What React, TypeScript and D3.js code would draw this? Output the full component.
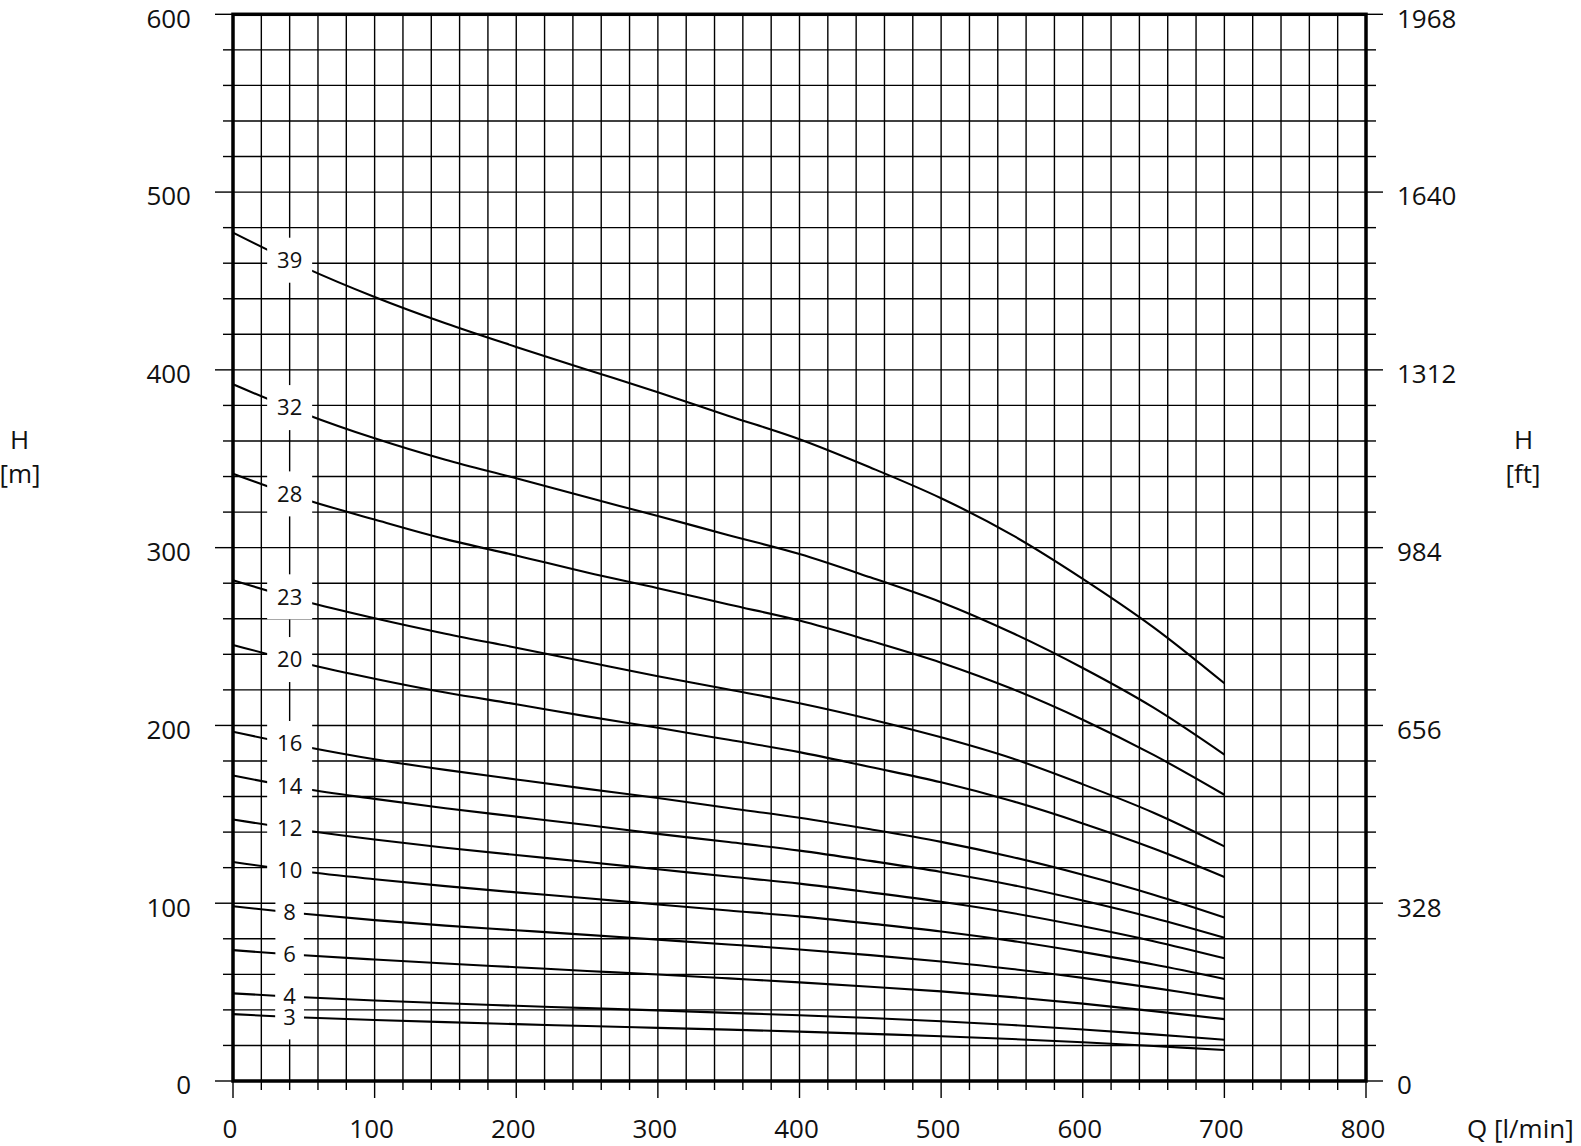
import React from 'react';
import * as d3 from 'd3';

// ---- data ----
const FLOW = [0, 50, 100, 150, 200, 250, 300, 350, 400, 450, 500, 550, 600, 650, 700];
const STAGES = [39, 32, 28, 23, 20, 16, 14, 12, 10, 8, 6, 4, 3];
const H39 = [477.2, 457.8, 441.0, 426.2, 412.9, 400.1, 387.4, 374.1, 361.0, 345.1, 327.8, 307.2, 282.5, 255.2, 223.7];
const H32 = [391.9, 375.5, 361.5, 349.4, 339.0, 328.3, 317.8, 307.0, 296.4, 283.3, 269.3, 252.1, 232.3, 210.0, 183.6];
const H28 = [341.6, 327.4, 315.8, 304.8, 295.6, 286.0, 277.2, 268.0, 259.0, 247.6, 235.3, 220.6, 203.2, 183.4, 161.0];
const H23 = [281.7, 270.0, 260.3, 251.6, 243.7, 235.7, 227.7, 220.2, 212.5, 203.5, 193.3, 181.5, 166.9, 150.9, 132.0];
const H20 = [245.3, 235.0, 226.3, 218.5, 211.9, 205.1, 198.7, 191.9, 185.0, 176.6, 168.0, 157.5, 144.9, 130.8, 114.8];
const H16 = [196.4, 188.2, 181.0, 175.0, 169.6, 164.3, 159.2, 153.6, 148.1, 141.6, 134.5, 126.0, 116.0, 104.8, 92.0];
const H14 = [171.8, 164.4, 158.7, 153.4, 148.7, 144.0, 139.0, 134.4, 129.6, 123.8, 117.6, 110.3, 101.5, 91.7, 80.6];
const H12 = [147.1, 141.0, 135.8, 131.2, 127.1, 123.2, 119.1, 115.0, 111.0, 106.1, 100.8, 94.5, 87.0, 78.6, 69.0];
const H10 = [123.2, 117.8, 113.5, 109.6, 106.1, 102.8, 99.3, 95.9, 92.6, 88.5, 84.1, 78.8, 72.5, 65.5, 57.4];
const H8 = [98.3, 94.1, 90.5, 87.4, 84.8, 82.2, 79.5, 76.8, 74.0, 70.8, 67.2, 63.0, 58.0, 52.4, 46.2];
const H6 = [73.6, 70.7, 68.3, 66.1, 64.0, 61.9, 59.9, 57.7, 55.5, 53.0, 50.4, 47.2, 43.5, 39.3, 34.8];
const H4 = [49.3, 47.1, 45.3, 43.7, 42.3, 41.0, 39.7, 38.3, 37.0, 35.4, 33.6, 31.5, 29.0, 26.2, 23.2];
const H3 = [37.6, 35.7, 34.3, 33.1, 32.0, 30.9, 29.9, 28.9, 27.8, 26.5, 25.2, 23.6, 21.8, 19.7, 17.4];
const CURVES = [H39, H32, H28, H23, H20, H16, H14, H12, H10, H8, H6, H4, H3];

const X_TICKS = [0, 100, 200, 300, 400, 500, 600, 700, 800];
const Y_TICKS_M = [0, 100, 200, 300, 400, 500, 600];
const Y_TICKS_FT = [0, 328, 656, 984, 1312, 1640, 1968];
const LABEL_Q = 40;

const W = 1581;
const HT = 1146;
const FONT = '"Open Sans", "DejaVu Sans", sans-serif';

export default function App() {
  const x = d3.scaleLinear().domain([0, 800]).range([233, 1366]);
  const y = d3.scaleLinear().domain([0, 600]).range([1081, 14.3]);
  const yFt = d3.scaleLinear().domain([0, 1968]).range([1081, 14.3]);

  const gridQ = d3.range(0, 801, 20);
  const gridH = d3.range(0, 601, 20);

  const line = d3
    .line<number>()
    .x((_, i) => x(FLOW[i]))
    .y((d) => y(d))
    .curve(d3.curveCatmullRom.alpha(0.5));

  const [x0, x1] = x.range();
  const [yb, yt] = y.range();

  const labelPos = (c: number[]) => {
    const hAt = c[0] + (c[1] - c[0]) * (LABEL_Q / (FLOW[1] - FLOW[0]));
    return { cx: x(LABEL_Q), cy: y(hAt) };
  };

  return (
    <svg
      width={W}
      height={HT}
      style={{ position: 'absolute', left: 0, top: 0, background: '#fff' }}
      fontFamily={FONT}
    >
      <rect x={0} y={0} width={W} height={HT} fill="#fff" />
      {/* grid */}
      <g stroke="#000" strokeWidth={1.4}>
        {gridQ.map((q) => (
          <line key={'gq' + q} x1={x(q)} x2={x(q)} y1={yt} y2={yb} />
        ))}
        {gridH.map((h) => (
          <line key={'gh' + h} x1={x0} x2={x1} y1={y(h)} y2={y(h)} />
        ))}
      </g>
      {/* ticks */}
      <g stroke="#000" strokeWidth={1.4}>
        {gridH.map((h) => {
          const major = h % 100 === 0;
          return (
            <g key={'th' + h}>
              <line x1={major ? x0 - 18 : x0 - 10} x2={x0} y1={y(h)} y2={y(h)} />
              <line x1={x1} x2={major ? x1 + 17 : x1 + 10} y1={y(h)} y2={y(h)} />
            </g>
          );
        })}
        {gridQ.map((q) => {
          const major = q % 100 === 0;
          return <line key={'tq' + q} x1={x(q)} x2={x(q)} y1={yb} y2={major ? yb + 17 : yb + 9} />;
        })}
      </g>
      {/* curves */}
      <g fill="none" stroke="#000" strokeWidth={2.1}>
        {CURVES.map((c, i) => (
          <path key={'c' + i} d={line(c) || ''} />
        ))}
      </g>
      {/* curve labels */}
      <g>
        {CURVES.map((c, i) => {
          const label = String(STAGES[i]);
          const { cx, cy } = labelPos(c);
          const bw = label.length * 16.5 + 12;
          const bh = 45;
          return <rect key={'lb' + i} x={cx - bw / 2} y={cy - bh / 2} width={bw} height={bh} fill="#fff" />;
        })}
        {CURVES.map((c, i) => {
          const { cx, cy } = labelPos(c);
          return (
            <text key={'lt' + i} x={cx} y={cy + 7.9} fontSize={22} textAnchor="middle" fill="#111">
              {String(STAGES[i])}
            </text>
          );
        })}
      </g>
      {/* frame */}
      <rect x={x0} y={yt} width={x1 - x0} height={yb - yt} fill="none" stroke="#000" strokeWidth={3.5} />
      {/* axis labels */}
      <g fontSize={26} fill="#111">
        {Y_TICKS_M.map((v) => (
          <text key={'ym' + v} x={191} y={Math.max(y(v) + 4, 14.5) + 9.3} textAnchor="end">
            {v}
          </text>
        ))}
        {Y_TICKS_FT.map((v) => (
          <text key={'yf' + v} x={1397} y={Math.max(yFt(v) + 4, 14.5) + 9.3} textAnchor="start">
            {v}
          </text>
        ))}
        {X_TICKS.map((v) => (
          <text key={'xq' + v} x={x(v) - 3} y={1138} textAnchor="middle">
            {v}
          </text>
        ))}
        <text x={1467} y={1138} textAnchor="start">Q [l/min]</text>
        <text x={19.5} y={449} textAnchor="middle">H</text>
        <text x={20} y={483} textAnchor="middle">[m]</text>
        <text x={1523.5} y={449} textAnchor="middle">H</text>
        <text x={1523} y={483} textAnchor="middle">[ft]</text>
      </g>
    </svg>
  );
}
